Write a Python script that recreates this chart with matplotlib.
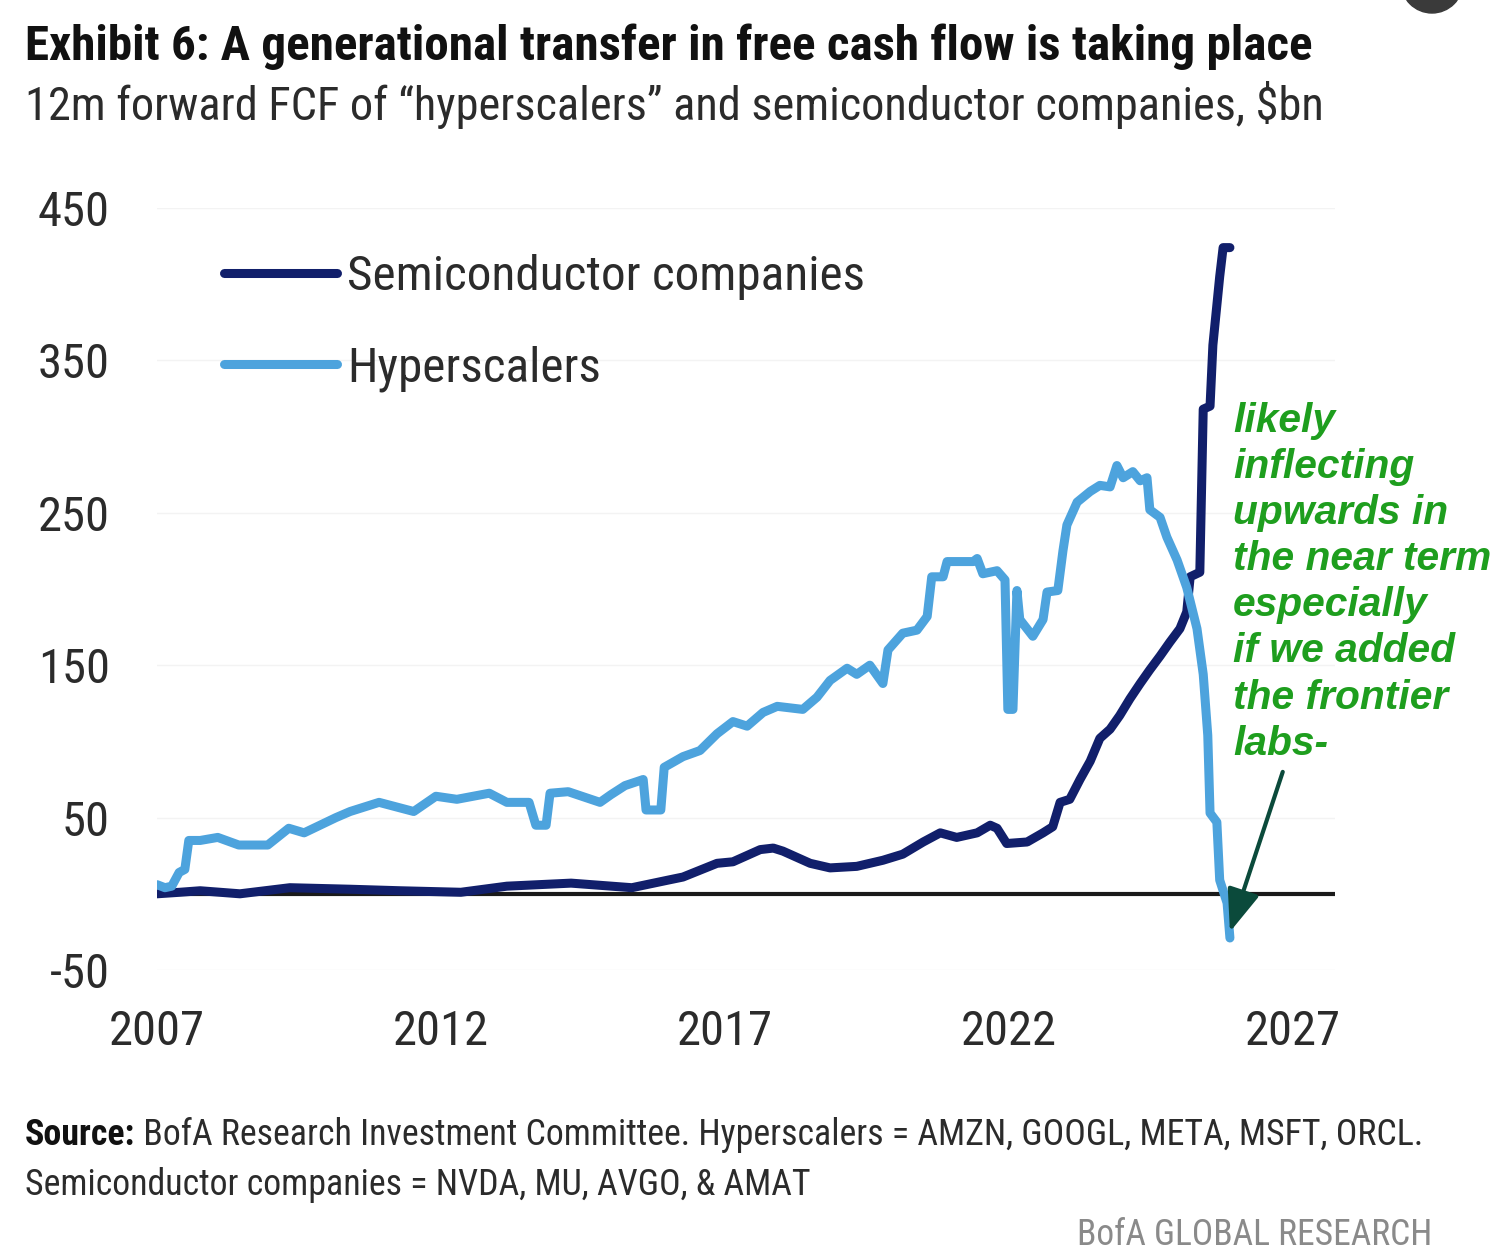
import matplotlib
matplotlib.use("Agg")
import matplotlib.pyplot as plt
from matplotlib import font_manager as fm
from matplotlib.lines import Line2D
from matplotlib.patches import Ellipse

# ---------------- data ----------------
hyper_years = [2007.00, 2007.14, 2007.26, 2007.39, 2007.49, 2007.56, 2007.76, 2008.07, 2008.44,
               2008.95, 2009.32, 2009.59, 2010.15, 2010.40, 2010.91, 2011.52, 2011.91, 2012.28,
               2012.85, 2013.16, 2013.55, 2013.67, 2013.85, 2013.92, 2014.24, 2014.80, 2014.99,
               2015.24, 2015.56, 2015.61, 2015.87, 2015.93, 2016.26, 2016.56, 2016.86, 2017.14,
               2017.39, 2017.67, 2017.92, 2018.37, 2018.62, 2018.85, 2019.15, 2019.32, 2019.55,
               2019.78, 2019.87, 2020.13, 2020.38, 2020.56, 2020.64, 2020.84, 2020.91, 2021.37,
               2021.44, 2021.54, 2021.79, 2021.93, 2021.98, 2022.07, 2022.14, 2022.19, 2022.42,
               2022.60, 2022.67, 2022.86, 2022.95, 2023.02, 2023.20, 2023.43, 2023.60, 2023.78,
               2023.90, 2024.01, 2024.18, 2024.31, 2024.43, 2024.48, 2024.66, 2024.78, 2024.96,
               2025.13, 2025.31, 2025.42, 2025.50, 2025.54, 2025.66, 2025.71, 2025.84, 2025.89]
hyper_fcf = [6, 4, 5, 14, 16, 35, 35, 37, 32,
             32, 43, 40, 50, 54, 60, 54, 64, 62,
             66, 60, 60, 45, 45, 66, 67, 60, 65,
             71, 75, 55, 55, 83, 90, 94, 105, 113,
             110, 119, 123, 121, 129, 140, 148, 144, 150,
             138, 160, 171, 173, 182, 208, 208, 218, 218,
             220, 210, 212, 206, 121, 121, 199, 180, 169,
             180, 198, 199, 225, 242, 257, 264, 268, 267,
             281, 273, 277, 271, 273, 252, 247, 234, 219,
             201, 174, 144, 104, 53, 47, 9, -6, -29]

semi_years = [2007.00, 2007.40, 2007.76, 2008.46, 2009.34, 2010.40, 2011.28, 2012.35, 2013.16,
              2014.29, 2015.36, 2016.00, 2016.26, 2016.86, 2017.14, 2017.62, 2017.85, 2018.02,
              2018.50, 2018.85, 2019.32, 2019.78, 2020.13, 2020.49, 2020.79, 2021.08, 2021.44,
              2021.67, 2021.79, 2021.96, 2022.32, 2022.60, 2022.77, 2022.90, 2023.07, 2023.25,
              2023.43, 2023.60, 2023.78, 2023.95, 2024.13, 2024.31, 2024.48, 2024.66, 2024.83,
              2025.01, 2025.13, 2025.19, 2025.36, 2025.42, 2025.54, 2025.59, 2025.71, 2025.77,
              2025.89]
semi_fcf = [0, 1, 2, 0, 4, 3, 2, 1, 5,
            7, 4, 9, 11, 20, 21, 29, 30, 28,
            20, 17, 18, 22, 26, 34, 40, 37, 40,
            45, 43, 33, 34, 40, 44, 60, 62, 75,
            87, 102, 108, 117, 128, 138, 147, 156, 165,
            174, 185, 208, 211, 318, 320, 360, 405, 424,
            424]

x_ticks = [2007, 2012, 2017, 2022, 2027]
y_ticks = [-50, 50, 150, 250, 350, 450]
series_labels = ["Semiconductor companies", "Hyperscalers"]

title = "Exhibit 6: A generational transfer in free cash flow is taking place"
subtitle = "12m forward FCF of \u201chyperscalers\u201d and semiconductor companies, $bn"
source_bold = "Source:"
source_rest = " BofA Research Investment Committee. Hyperscalers = AMZN, GOOGL, META, MSFT, ORCL."
source_line2 = "Semiconductor companies = NVDA, MU, AVGO, & AMAT"
brand = "BofA GLOBAL RESEARCH"
note = "likely\ninflecting\nupwards in\nthe near term\nespecially\nif we added\nthe frontier\nlabs-"

# ---------------- fonts ----------------
names = {f.name for f in fm.fontManager.ttflist}
cond = None
for cand in ["Liberation Sans Narrow", "Roboto Condensed", "Open Sans Condensed"]:
    if cand in names:
        cond = cand
        break
if cond is None:
    cond = "Roboto"
plt.rcParams["font.family"] = [cond, "DejaVu Sans"]

NAVY = "#111f6b"
LIGHT = "#4da3dd"
GREEN = "#1e9e1e"
TXT = "#2b2b2b"

W, H = 1492, 1260
fig = plt.figure(figsize=(W / 100, H / 100), dpi=100)
fig.patch.set_facecolor("white")


def fx(px):
    return px / W


def fy(py):
    return 1 - py / H


ax = fig.add_axes([fx(157), fy(970), fx(1335) - fx(157), fy(208) - fy(970)])
ax.set_xlim(2007, 2027.74)
ax.set_ylim(-50, 450)
for s in ax.spines.values():
    s.set_visible(False)
ax.set_xticks(x_ticks)
ax.set_yticks(y_ticks)
ax.set_xticklabels([str(v) for v in x_ticks])
ax.set_yticklabels([str(v) for v in y_ticks])
ax.tick_params(axis="both", length=0, labelsize=35, colors=TXT)
ax.tick_params(axis="y", pad=34)
ax.tick_params(axis="x", pad=28)
ax.grid(axis="y", color="#f3f3f3", lw=1)
ax.set_axisbelow(True)

ax.axhline(0, color="#1a1a1a", lw=3, zorder=2)
ax.plot(semi_years, semi_fcf, color=NAVY, lw=6.5, solid_joinstyle="round",
        solid_capstyle="round", zorder=3)
ax.plot(hyper_years, hyper_fcf, color=LIGHT, lw=6.5, solid_joinstyle="round",
        solid_capstyle="round", zorder=4)

handles = [Line2D([], [], color=NAVY, lw=6.5, solid_capstyle="round"),
           Line2D([], [], color=LIGHT, lw=6.5, solid_capstyle="round")]
leg = ax.legend(handles, series_labels, loc="upper left",
                bbox_to_anchor=(fx(224), fy(254)), bbox_transform=fig.transFigure,
                frameon=False, fontsize=35.5, handlelength=2.3, handletextpad=0.2,
                labelspacing=0.92, borderpad=0, borderaxespad=0)
for t in leg.get_texts():
    t.set_color(TXT)

# annotation arrow
ax.annotate("", xy=(2025.89, -25), xytext=(2026.82, 80),
            arrowprops=dict(arrowstyle="-|>,head_length=2.6,head_width=1.0",
                            color="#0b4a3b", lw=3, shrinkA=0, shrinkB=0),
            zorder=6)

fig.text(fx(1233), fy(402), note, ha="left", va="top", color=GREEN,
         fontsize=29.3, fontweight="bold", fontstyle="italic",
         family=["Liberation Sans", "DejaVu Sans"], linespacing=1.27)

# titles
fig.text(fx(25), fy(47), title, ha="left", va="center", fontsize=35.4,
         fontweight="bold", color="#111111")
fig.text(fx(25), fy(105), subtitle, ha="left", va="center", fontsize=33.4,
         color=TXT)

# source
t1 = fig.text(fx(25), fy(1135), source_bold, ha="left", va="center", fontsize=25.8,
              fontweight="bold", color="#111111")
fig.canvas.draw()
bb = t1.get_window_extent()
fig.text(bb.x1 / W, fy(1135), source_rest, ha="left", va="center", fontsize=25.8,
         color=TXT)
fig.text(fx(25), fy(1185), source_line2, ha="left", va="center", fontsize=25.8,
         color=TXT)
fig.text(fx(1432), fy(1235), brand, ha="right", va="center", fontsize=25.6,
         color="#8a8a8a")

# screenshot artifact circle at top right
fig.patches.append(Ellipse((fx(1432), fy(-18)), 62 / W, 62 / H,
                           transform=fig.transFigure, color="#3a3a3a", zorder=10))

fig.savefig("out.png", dpi=100, facecolor="white")
